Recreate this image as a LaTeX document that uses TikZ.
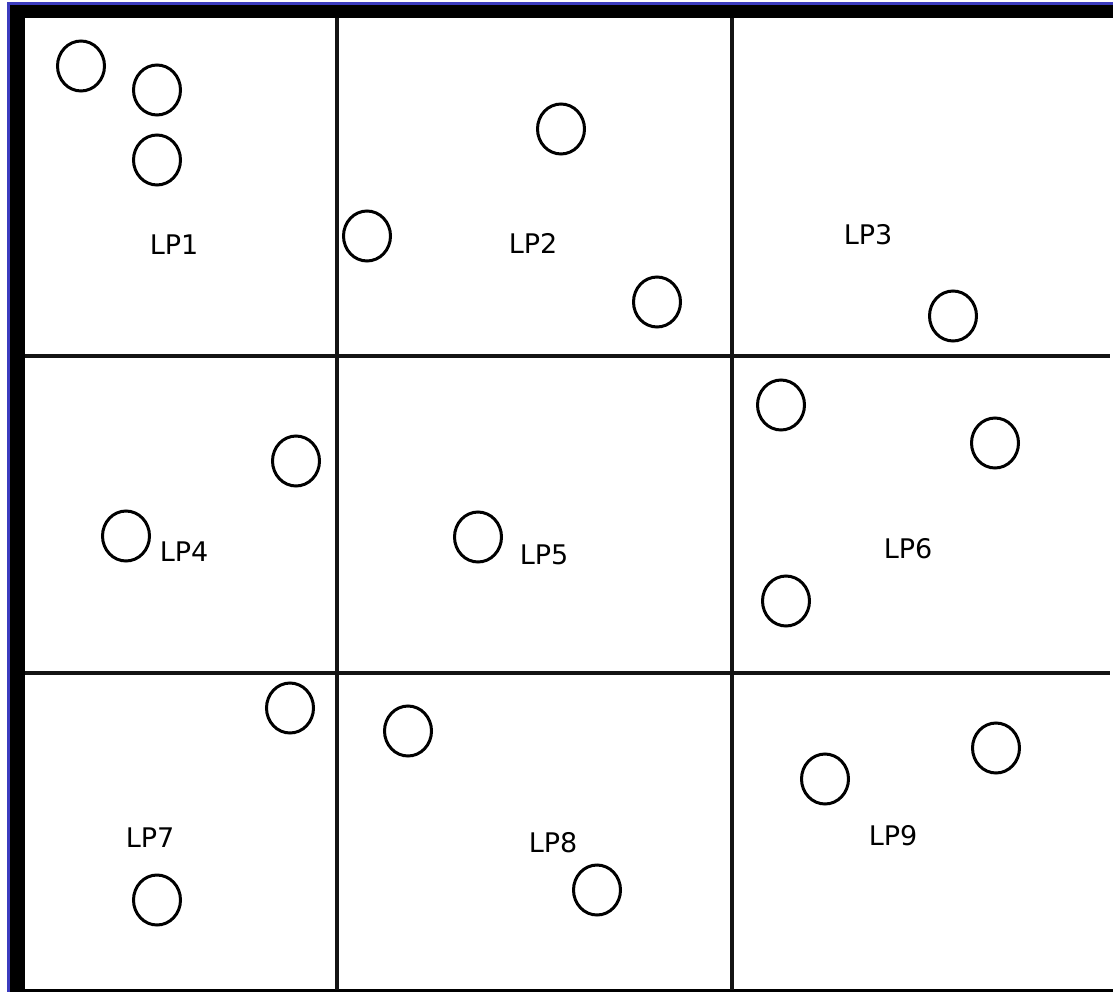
\documentclass[tikz,border=0pt]{standalone}
\usepackage{fontspec}
\setmainfont{DejaVu Sans}
\usetikzlibrary{shapes.geometric}
\definecolor{frameblue}{RGB}{60,60,190}
\tikzset{
  ball/.style={ellipse,draw=black,line width=3pt,minimum width=47pt,minimum height=50pt,inner sep=0pt},
  lp/.style={font=\fontsize{27}{30}\selectfont,inner sep=0pt},
  grid/.style={line width=3.2pt,draw=black!92}
}
\begin{document}
\begin{tikzpicture}[x=1pt,y=-1pt]
\useasboundingbox (0,0) rectangle (1113,992);
\fill[white] (0,0) rectangle (1113,992);
% frame
\fill[frameblue] (7,2) rectangle (1113,5);
\fill[frameblue] (7,2) rectangle (10,992);
\fill[black] (10,5) rectangle (1113,18);
\fill[black] (10,5) rectangle (25,992);
\fill[black] (25,989) rectangle (1113,991.5);
% grid
\coordinate (v1t) at (337,18); \coordinate (v1b) at (337,990);
\coordinate (v2t) at (732,18); \coordinate (v2b) at (732,990);
\coordinate (h1l) at (25,356); \coordinate (h1r) at (1110,356);
\coordinate (h2l) at (25,673); \coordinate (h2r) at (1110,673);
\draw[grid] (v1t) -- (v1b);
\draw[grid] (v2t) -- (v2b);
\draw[grid] (h1l) -- (h1r);
\draw[grid] (h2l) -- (h2r);
% circles
\node[ball] (c1) at (81,66) {};
\node[ball] (c2) at (157,90) {};
\node[ball] (c3) at (157,160) {};
\node[ball] (c4) at (561,129) {};
\node[ball] (c5) at (367,236) {};
\node[ball] (c6) at (657,302) {};
\node[ball] (c7) at (953,316) {};
\node[ball] (c8) at (296,461) {};
\node[ball] (c9) at (126,536) {};
\node[ball] (c10) at (478,537) {};
\node[ball] (c11) at (781,405) {};
\node[ball] (c12) at (995,443) {};
\node[ball] (c13) at (786,601) {};
\node[ball] (c14) at (290,708) {};
\node[ball] (c15) at (408,731) {};
\node[ball] (c16) at (996,748) {};
\node[ball] (c17) at (825,779) {};
\node[ball] (c18) at (597,890) {};
\node[ball] (c19) at (157,900) {};
% labels
\node[lp] (lp1) at (174,245) {LP1};
\node[lp] (lp2) at (533,243) {LP2};
\node[lp] (lp3) at (868,235) {LP3};
\node[lp] (lp4) at (184,552) {LP4};
\node[lp] (lp5) at (544,555) {LP5};
\node[lp] (lp6) at (908,549) {LP6};
\node[lp] (lp7) at (150,838) {LP7};
\node[lp] (lp8) at (553,843) {LP8};
\node[lp] (lp9) at (893,836) {LP9};
\end{tikzpicture}
\end{document}
